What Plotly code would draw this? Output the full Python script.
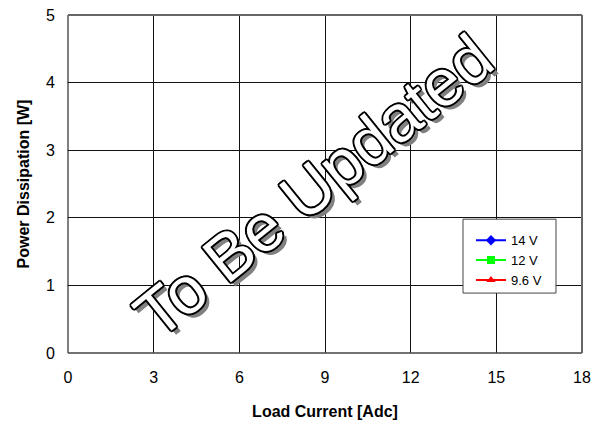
import plotly.graph_objects as go

# Data (the reference chart shows no plotted values, only legend entries)
series_names = ["14 V", "12 V", "9.6 V"]
series_x = [[None], [None], [None]]
series_y = [[None], [None], [None]]
series_colors = ["#0000FF", "#00FF00", "#FF0000"]
series_symbols = ["diamond", "square", "triangle-up"]

x_ticks = [0, 3, 6, 9, 12, 15, 18]
y_ticks = [0, 1, 2, 3, 4, 5]
watermark = "To Be Updated"

fig = go.Figure()
for name, xs, ys, c, s in zip(series_names, series_x, series_y, series_colors, series_symbols):
    fig.add_trace(go.Scatter(x=xs, y=ys, name=name, mode="lines+markers",
                             line=dict(color=c, width=2),
                             marker=dict(symbol=s, size=8, color=c)))

font_main = "Arial, Liberation Sans, sans-serif"

fig.update_layout(
    width=606, height=424,
    margin=dict(l=60, r=32, t=6.5, b=79, autoexpand=False),
    paper_bgcolor="white", plot_bgcolor="white",
    font=dict(family=font_main, color="black", size=16),
    showlegend=True,
    legend=dict(x=0.784, y=0.378, xanchor="left", yanchor="top",
                bgcolor="rgba(0,0,0,0)", borderwidth=0,
                font=dict(size=13, family=font_main),
                tracegroupgap=0, itemwidth=30),
    xaxis=dict(range=[0, 18], tickvals=x_ticks, ticktext=[str(v) for v in x_ticks],
               showgrid=True, gridcolor="#111", gridwidth=1, automargin=False,
               zeroline=False, showline=False, ticks="",
               ticklabelstandoff=13, ticklabeloverflow="allow",
               title=dict(text="<b>Load Current [Adc]</b>", standoff=20,
                          font=dict(size=16, family=font_main))),
    yaxis=dict(range=[0, 5], tickvals=y_ticks, ticktext=[str(v) for v in y_ticks],
               showgrid=True, gridcolor="#111", gridwidth=1, automargin=False,
               zeroline=False, showline=False, ticks="",
               ticklabelstandoff=12, ticklabeloverflow="allow",
               title=dict(text="<b>Power Dissipation [W]</b>", standoff=12,
                          font=dict(size=16, family=font_main))),
)

# plot frame: left & bottom black, top & right gray thicker
fig.add_shape(type="line", xref="paper", yref="paper", x0=0, x1=0, y0=0, y1=1,
              line=dict(color="black", width=1))
fig.add_shape(type="line", xref="paper", yref="paper", x0=0, x1=1, y0=0, y1=0,
              line=dict(color="#444", width=1.5))
fig.add_shape(type="line", xref="paper", yref="paper", x0=0, x1=1, y0=1, y1=1,
              line=dict(color="#666", width=2))
fig.add_shape(type="line", xref="paper", yref="paper", x0=1, x1=1, y0=0, y1=1,
              line=dict(color="#666", width=2))

# legend box
fig.add_shape(type="rect", xref="paper", yref="paper", x0=0.7685, x1=0.9494,
              y0=0.1773, y1=0.3959, fillcolor="white",
              line=dict(color="#444", width=1), layer="above")

outline = ", ".join(f"{dx}px {dy}px 0 #000" for dx, dy in
                    [(-1.4, -1.4), (1.4, -1.4), (-1.4, 1.4), (1.4, 1.4),
                     (0, -1.9), (0, 1.9), (-1.9, 0), (1.9, 0)])
fig.add_annotation(text=watermark, xref="paper", yref="paper", x=0.4775, y=0.495,
                   showarrow=False, textangle=-39,
                   font=dict(size=66, family=font_main, color="white",
                             shadow=outline + ", 0.8px 6px 0 #808080"))

fig.write_html("out.html")
